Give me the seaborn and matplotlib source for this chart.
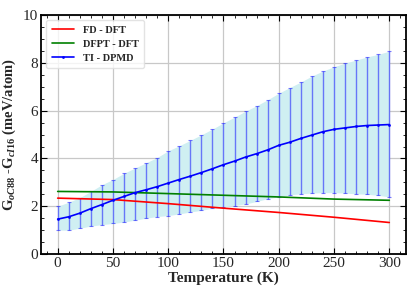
import matplotlib as mpl

mpl.use("Agg")

import matplotlib.pyplot as plt
import pandas as pd
import seaborn as sns
from matplotlib.ticker import MultipleLocator

sns.set_theme(style="whitegrid")
plt.rcParams["font.family"] = ["Liberation Serif", "DejaVu Serif"]
plt.rcParams["mathtext.fontset"] = "custom"
plt.rcParams["mathtext.rm"] = "Liberation Serif:bold"
plt.rcParams["mathtext.it"] = "Liberation Serif:italic:bold"

# FD / DFPT curves (meV/atom)
T_dft = [0, 50, 100, 150, 200, 250, 300]
fd_dft = [2.34, 2.28, 2.11, 1.92, 1.74, 1.54, 1.32]
dfpt_dft = [2.62, 2.60, 2.53, 2.46, 2.39, 2.30, 2.25]

# TI - DPMD with uncertainty band
T_ti = list(range(0, 301, 10))
ti_mean = [1.46, 1.56, 1.71, 1.90, 2.07, 2.25, 2.41, 2.57, 2.69, 2.82,
           2.97, 3.12, 3.26, 3.41, 3.57, 3.74, 3.89, 4.06, 4.20, 4.36,
           4.55, 4.68, 4.84, 4.98, 5.12, 5.22, 5.28, 5.34, 5.38, 5.40, 5.42]
ti_upper = [2.00, 2.17, 2.36, 2.62, 2.90, 3.12, 3.38, 3.60, 3.82, 4.04,
            4.32, 4.53, 4.76, 4.99, 5.23, 5.49, 5.73, 5.98, 6.21, 6.46,
            6.73, 6.97, 7.20, 7.45, 7.66, 7.84, 7.99, 8.12, 8.25, 8.36, 8.49]
ti_lower = [1.00, 1.00, 1.08, 1.17, 1.23, 1.28, 1.34, 1.42, 1.50, 1.57,
            1.61, 1.68, 1.76, 1.83, 1.92, 1.97, 2.03, 2.10, 2.20, 2.32,
            2.39, 2.48, 2.52, 2.55, 2.57, 2.57, 2.55, 2.52, 2.50, 2.46, 2.39]

dft = pd.DataFrame({"T": T_dft, "fd": fd_dft, "dfpt": dfpt_dft})
ti = pd.DataFrame({"T": T_ti, "mean": ti_mean, "lo": ti_lower, "hi": ti_upper})

fig = plt.figure(figsize=(4.15, 2.91), dpi=100)
ax = fig.add_axes([0.099, 0.127, 0.879, 0.821])

ax.fill_between(ti["T"], ti["lo"], ti["hi"], color="#cfeff2", lw=0, zorder=1)
ax.errorbar(ti["T"], ti["mean"],
            yerr=[ti["mean"] - ti["lo"], ti["hi"] - ti["mean"]],
            fmt="none", ecolor="blue", alpha=0.5, elinewidth=1,
            capsize=1.5, capthick=0.8, zorder=2)
sns.lineplot(data=dft, x="T", y="fd", color="red", lw=1.2,
             label="FD - DFT", ax=ax, zorder=3)
sns.lineplot(data=dft, x="T", y="dfpt", color="green", lw=1.2,
             label="DFPT - DFT", ax=ax, zorder=3)
sns.lineplot(data=ti, x="T", y="mean", color="blue", lw=1.2, marker="o",
             markersize=2, markeredgewidth=0, label="TI - DPMD", ax=ax, zorder=4)

ax.set_xlim(-15, 315)
ax.set_ylim(0, 10)
ax.xaxis.set_major_locator(MultipleLocator(50))
ax.xaxis.set_minor_locator(MultipleLocator(10))
ax.yaxis.set_major_locator(MultipleLocator(2))
ax.yaxis.set_minor_locator(MultipleLocator(0.5))
ax.tick_params(which="both", direction="in", top=True, right=True,
               bottom=True, left=True, color="black", labelsize=11, pad=2)
ax.tick_params(which="major", length=4, width=0.8)
ax.tick_params(which="minor", length=2, width=0.6)
ax.grid(True, which="major", color="#c8c8c8", lw=0.9)
ax.grid(False, which="minor")
for s in ax.spines.values():
    s.set_color("black")
    s.set_linewidth(1.3)

ax.set_xlabel("Temperature (K)", fontsize=11, fontweight="bold", labelpad=1)
ax.set_ylabel(r"G$_{\mathit{oC}88}$ -G$_{\mathit{cI}16}$ (meV/atom)",
              fontsize=10.5, fontweight="bold", labelpad=4)

leg = ax.legend(loc="upper left", prop={"family": "Liberation Serif",
                "weight": "bold", "size": 7.5}, frameon=True,
                handlelength=2.2, borderpad=0.5, labelspacing=0.45)
leg.get_frame().set_edgecolor("#dddddd")

fig.savefig("out.png", dpi=100)
